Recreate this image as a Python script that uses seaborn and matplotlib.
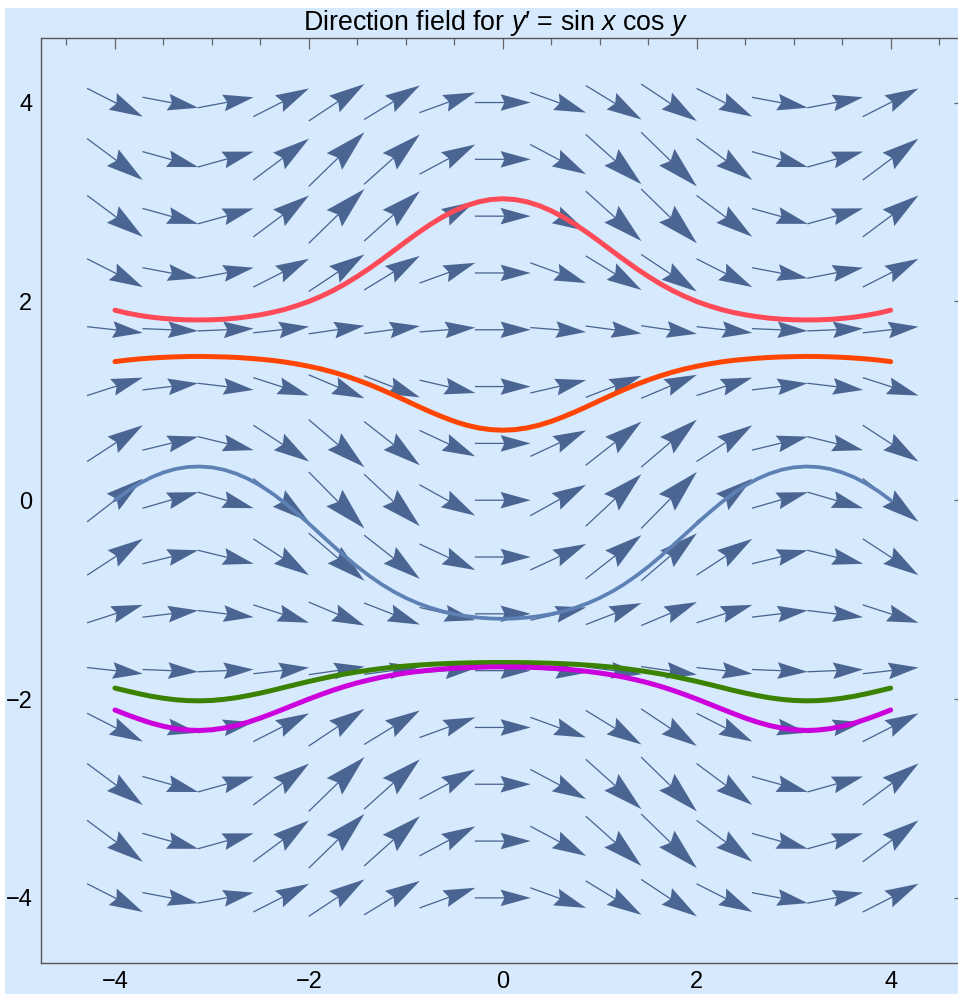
import numpy as np
import pandas as pd
import seaborn as sns
import matplotlib.pyplot as plt
from matplotlib.patches import Rectangle
from matplotlib.ticker import FixedLocator, MultipleLocator

# direction field grid: 15 x 15 points from -4 to 4
grid_x = [-4.0, -3.4286, -2.8571, -2.2857, -1.7143, -1.1429, -0.5714, 0.0,
          0.5714, 1.1429, 1.7143, 2.2857, 2.8571, 3.4286, 4.0]
grid_y = [-4.0, -3.4286, -2.8571, -2.2857, -1.7143, -1.1429, -0.5714, 0.0,
          0.5714, 1.1429, 1.7143, 2.2857, 2.8571, 3.4286, 4.0]
# slope factors of y' = sin x cos y at the grid columns / rows
sin_x = [0.7568, 0.2831, -0.2807, -0.7552, -0.9897, -0.9098, -0.5408, 0.0,
         0.5408, 0.9098, 0.9897, 0.7552, 0.2807, -0.2831, -0.7568]
cos_y = [-0.6536, -0.9591, -0.9598, -0.6556, -0.1430, 0.4150, 0.8411, 1.0,
         0.8411, 0.4150, -0.1430, -0.6556, -0.9598, -0.9591, -0.6536]

# solution curves, x from -4 to 4 in steps of 0.125
curve_x = [-4.0, -3.875, -3.75, -3.625, -3.5, -3.375, -3.25, -3.125, -3.0, -2.875,
           -2.75, -2.625, -2.5, -2.375, -2.25, -2.125, -2.0, -1.875, -1.75, -1.625,
           -1.5, -1.375, -1.25, -1.125, -1.0, -0.875, -0.75, -0.625, -0.5, -0.375,
           -0.25, -0.125, 0.0, 0.125, 0.25, 0.375, 0.5, 0.625, 0.75, 0.875, 1.0,
           1.125, 1.25, 1.375, 1.5, 1.625, 1.75, 1.875, 2.0, 2.125, 2.25, 2.375,
           2.5, 2.625, 2.75, 2.875, 3.0, 3.125, 3.25, 3.375, 3.5, 3.625, 3.75,
           3.875, 4.0]
red_y = [1.911, 1.882, 1.859, 1.841, 1.828, 1.819, 1.814, 1.813, 1.815, 1.821,
         1.831, 1.846, 1.865, 1.889, 1.919, 1.956, 1.999, 2.050, 2.109, 2.176,
         2.251, 2.332, 2.419, 2.509, 2.600, 2.689, 2.772, 2.847, 2.911, 2.963,
         3.001, 3.024, 3.032, 3.024, 3.001, 2.963, 2.911, 2.847, 2.772, 2.689,
         2.600, 2.509, 2.419, 2.332, 2.251, 2.176, 2.109, 2.050, 1.999, 1.956,
         1.919, 1.889, 1.865, 1.846, 1.831, 1.821, 1.815, 1.813, 1.814, 1.819,
         1.828, 1.841, 1.859, 1.882, 1.911]
orange_y = [1.394, 1.409, 1.421, 1.430, 1.437, 1.442, 1.445, 1.446, 1.444, 1.441,
            1.436, 1.428, 1.418, 1.406, 1.390, 1.370, 1.347, 1.320, 1.288, 1.251,
            1.209, 1.163, 1.112, 1.058, 1.002, 0.945, 0.890, 0.839, 0.793, 0.755,
            0.727, 0.710, 0.704, 0.710, 0.727, 0.755, 0.793, 0.839, 0.890, 0.945,
            1.002, 1.058, 1.112, 1.163, 1.209, 1.251, 1.288, 1.320, 1.347, 1.370,
            1.390, 1.406, 1.418, 1.428, 1.436, 1.441, 1.444, 1.446, 1.445, 1.442,
            1.437, 1.430, 1.421, 1.409, 1.394]
blue_y = [0.000, 0.089, 0.166, 0.230, 0.279, 0.314, 0.334, 0.339, 0.330, 0.306,
          0.267, 0.214, 0.147, 0.066, -0.026, -0.128, -0.236, -0.348, -0.459, -0.567,
          -0.669, -0.762, -0.846, -0.920, -0.983, -1.037, -1.081, -1.117, -1.145, -1.166,
          -1.181, -1.190, -1.193, -1.190, -1.181, -1.166, -1.145, -1.117, -1.081, -1.037,
          -0.983, -0.920, -0.846, -0.762, -0.669, -0.567, -0.459, -0.348, -0.236, -0.128,
          -0.026, 0.066, 0.147, 0.214, 0.267, 0.306, 0.330, 0.339, 0.334, 0.314,
          0.279, 0.230, 0.166, 0.089, 0.000]
green_y = [-1.890, -1.919, -1.947, -1.972, -1.992, -2.007, -2.016, -2.018, -2.014, -2.003,
           -1.987, -1.965, -1.940, -1.912, -1.882, -1.852, -1.823, -1.796, -1.770, -1.747,
           -1.727, -1.709, -1.693, -1.679, -1.668, -1.659, -1.651, -1.645, -1.640, -1.637,
           -1.634, -1.633, -1.632, -1.633, -1.634, -1.637, -1.640, -1.645, -1.651, -1.659,
           -1.668, -1.679, -1.693, -1.709, -1.727, -1.747, -1.770, -1.796, -1.823, -1.852,
           -1.882, -1.912, -1.940, -1.965, -1.987, -2.003, -2.014, -2.018, -2.016, -2.007,
           -1.992, -1.972, -1.947, -1.919, -1.890]
magenta_y = [-2.110, -2.158, -2.202, -2.242, -2.274, -2.298, -2.312, -2.316, -2.309, -2.292,
             -2.266, -2.232, -2.191, -2.145, -2.097, -2.048, -2.000, -1.954, -1.911, -1.872,
             -1.837, -1.807, -1.780, -1.757, -1.738, -1.722, -1.709, -1.698, -1.690, -1.684,
             -1.680, -1.677, -1.676, -1.677, -1.680, -1.684, -1.690, -1.698, -1.709, -1.722,
             -1.738, -1.757, -1.780, -1.807, -1.837, -1.872, -1.911, -1.954, -2.000, -2.048,
             -2.097, -2.145, -2.191, -2.232, -2.266, -2.292, -2.309, -2.316, -2.312, -2.298,
             -2.274, -2.242, -2.202, -2.158, -2.110]

bg = "#d6e9fd"
arrow_col = "#4a6591"

sns.set_theme(style="white")
plt.rcParams['font.family'] = ['Liberation Sans', 'DejaVu Sans']
plt.rcParams['mathtext.fontset'] = 'custom'
plt.rcParams['mathtext.rm'] = 'Liberation Sans'
plt.rcParams['mathtext.it'] = 'Liberation Sans:italic'

fig = plt.figure(figsize=(9.58, 9.94), dpi=100, facecolor=bg)
ax = fig.add_axes([40.7 / 958, 31.3 / 994, 924.2 / 958, 925.0 / 994])
ax.set_facecolor(bg)

# white strips on the top and left border of the picture
fig.patches.append(Rectangle((0, 1 - 8 / 994), 1, 8 / 994, transform=fig.transFigure,
                             facecolor="white", edgecolor="none", zorder=-1))
fig.patches.append(Rectangle((0, 0), 5 / 958, 1, transform=fig.transFigure,
                             facecolor="white", edgecolor="none", zorder=-1))

# direction field, arrows scaled by magnitude and centred on the grid points
slopes = np.outer(cos_y, sin_x)
arrow_scale = 0.575
for j, yc in enumerate(grid_y):
    for i, xc in enumerate(grid_x):
        dx = arrow_scale
        dy = arrow_scale * slopes[j, i]
        L = np.hypot(dx, dy)
        ax.arrow(xc - dx / 2, yc - dy / 2, dx, dy, width=0.013,
                 head_width=0.29 * L, head_length=0.54 * L,
                 length_includes_head=True, overhang=0.12,
                 facecolor=arrow_col, edgecolor="none", zorder=2)

curves = [
    (red_y, "#ff4a58", 3.6),
    (orange_y, "#ff4500", 3.6),
    (blue_y, "#5e81b5", 2.7),
    (green_y, "#3a8200", 3.6),
    (magenta_y, "#cc00dd", 3.6),
]
for k, (ys, col, lw) in enumerate(curves):
    df = pd.DataFrame({"x": curve_x, "y": ys})
    sns.lineplot(data=df, x="x", y="y", ax=ax, color=col, linewidth=lw,
                 estimator=None, sort=False, zorder=3 + k)

ax.set_xlim(-4.766, 4.766)
ax.set_ylim(-4.652, 4.652)
ax.set_xlabel("")
ax.set_ylabel("")

for a in (ax.xaxis, ax.yaxis):
    a.set_major_locator(FixedLocator([-4, -2, 0, 2, 4]))
    a.set_minor_locator(MultipleLocator(0.5))
ax.tick_params(which="both", direction="in", top=True, right=True,
               labeltop=False, labelright=False, color="#666666", width=0.9)
ax.tick_params(which="major", length=7.7, labelsize=17, pad=6, labelcolor="black")
ax.tick_params(which="minor", length=4.8)
for s in ax.spines.values():
    s.set_color("#555555")
    s.set_linewidth(1.0)

fig.text(496 / 958, 1 - 30 / 994, "Direction field for $y$\u2032 = sin $x$ cos $y$",
         ha="center", va="baseline", fontsize=19.3, color="black")

fig.savefig("out.png", dpi=100, facecolor=bg)
